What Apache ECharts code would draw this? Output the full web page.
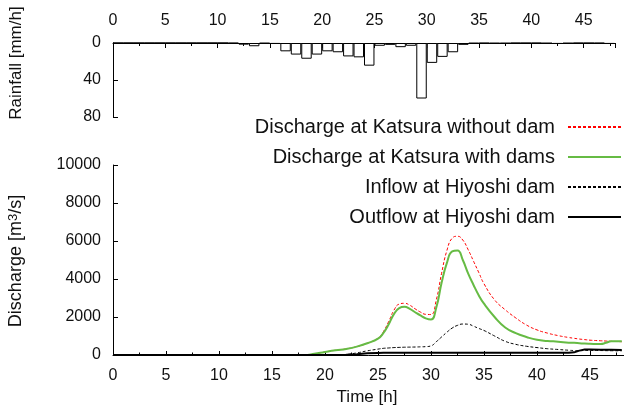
<!DOCTYPE html>
<html><head><meta charset="utf-8">
<script src="https://cdn.jsdelivr.net/npm/echarts@6/dist/echarts.min.js"></script>
<style>html,body{margin:0;padding:0;background:#fff}#c{width:624px;height:417px}</style>
</head><body><div id="c"></div><script>
// Rainfall: hourly bins starting at hour 0..47 [mm/h]
const rainHours = [0,1,2,3,4,5,6,7,8,9,10,11,12,13,14,15,16,17,18,19,20,21,22,23,24,25,26,27,28,29,30,31,32,33,34,35,36,37,38,39,40,41,42,43,44,45,46,47];
const rainfall = [0,0,0,0,0,0,0,0,0,0,0,0.3,1.8,3.5,0.5,1,9,12.5,17,12.5,9,10,14.5,15.5,24.5,3,2,4.5,3,60,21.5,15,10,2,0.5,0.3,0.5,0.5,0.2,0.2,0.2,0.5,1,0.5,0.2,0.2,0.3,1];

// Discharge time axis [h]
const time = [0,17,18,19,20,21,22,23,24,25,25.5,26,26.5,27,27.5,28,28.5,29,29.5,30,30.5,31,31.5,32,32.5,33,33.5,34,34.5,35,36,37,38,39,40,41,42,43,43.5,44,44.5,45,46,46.5,47,48];
const withoutDam = [0,0,0,60,160,250,320,440,620,880,1220,1750,2350,2680,2720,2620,2430,2260,2140,2130,2900,4300,5500,6150,6250,6050,5550,4950,4350,3750,2900,2380,1950,1580,1320,1150,1020,920,880,840,810,780,750,735,720,700];
const withDams = [0,0,0,60,160,250,320,440,620,860,1150,1600,2150,2470,2540,2430,2250,2080,1930,1870,2500,3800,4850,5450,5500,5000,4300,3700,3150,2700,2000,1450,1150,950,800,740,700,650,640,620,600,590,580,640,720,720];
const inflow = [0,0,0,0,0,10,30,110,220,310,350,370,390,400,410,415,420,430,440,480,700,950,1200,1420,1560,1630,1620,1520,1400,1290,1000,720,560,460,390,330,290,250,235,230,235,240,235,230,225,220];
const outflow = [0,0,0,0,0,0,10,40,90,110,120,120,120,120,120,120,120,120,120,120,120,120,120,120,120,120,120,120,120,120,120,120,120,120,120,120,120,120,140,230,290,290,280,275,270,260];

const names = ['Discharge at Katsura without dam','Discharge at Katsura with dams','Inflow at Hiyoshi dam','Outflow at Hiyoshi dam'];
const FONT = 'Liberation Sans, Arial, sans-serif';
const TXT = '#111';

const pairs = arr => time.map((t, i) => [t, arr[i]]);
const axisCommon = {
  axisLine: { onZero: false, lineStyle: { color: '#000', width: 1 } },
  axisTick: { inside: true, length: 5, lineStyle: { color: '#000' } },
  splitLine: { show: false },
  axisLabel: { fontSize: 16, color: TXT, fontFamily: FONT, formatter: v => String(v) }
};
const five = v => (v % 5 === 0 ? String(v) : '');

const chart = echarts.init(document.getElementById('c'), null, { renderer: 'canvas' });
const legendRow = (i, top) => ({
  data: [names[i]], right: 2, top: top, orient: 'vertical', align: 'right', padding: 0,
  itemWidth: 53, itemHeight: 12, selectedMode: false,
  itemStyle: { opacity: 0 },
  textStyle: { fontSize: 20, color: TXT, fontFamily: FONT, padding: [0, 8, 0, 0] }
});
chart.setOption({
  animation: false,
  backgroundColor: '#fff',
  grid: [
    { left: 113, top: 43, width: 502, height: 74, outerBoundsMode: 'none', containLabel: false },
    { left: 113, top: 165, width: 530, height: 190, outerBoundsMode: 'none', containLabel: false }
  ],
  xAxis: [
    Object.assign({}, axisCommon, { gridIndex: 0, type: 'value', position: 'top', min: 0, max: 48, interval: 5,
      minorTick: { show: true, splitNumber: 2, length: 3, lineStyle: { color: '#000' } },
      axisLabel: Object.assign({}, axisCommon.axisLabel, { margin: 14, formatter: five }) }),
    { gridIndex: 0, type: 'category', data: rainHours, show: false, boundaryGap: true },
    Object.assign({}, axisCommon, { gridIndex: 1, type: 'value', position: 'bottom', min: 0, max: 50, interval: 5,
      axisTick: { inside: true, length: 4, lineStyle: { color: '#000' } },
      minorTick: { show: true, splitNumber: 2, length: 2.5, lineStyle: { color: '#000' } },
      axisLabel: Object.assign({}, axisCommon.axisLabel, { margin: 13, formatter: five }) })
  ],
  yAxis: [
    Object.assign({}, axisCommon, { gridIndex: 0, type: 'value', inverse: true, min: 0, max: 80, interval: 40,
      axisLabel: Object.assign({}, axisCommon.axisLabel, { margin: 12 }) }),
    Object.assign({}, axisCommon, { gridIndex: 1, type: 'value', min: 0, max: 10000, interval: 2000,
      axisLabel: Object.assign({}, axisCommon.axisLabel, { margin: 12 }) })
  ],
  legend: [legendRow(0, 117), legendRow(1, 147), legendRow(2, 177), legendRow(3, 207)],
  graphic: [
    { type: 'text', x: 16, y: 63, rotation: Math.PI / 2, style: { text: 'Rainfall [mm/h]', fontSize: 17, fill: TXT, fontFamily: FONT, align: 'center', verticalAlign: 'middle' } },
    { type: 'text', x: 16, y: 261, rotation: Math.PI / 2, style: { text: 'Discharge [m{sup|3}/s]', fontSize: 18, fill: TXT, fontFamily: FONT, align: 'center', verticalAlign: 'middle',
      rich: { sup: { fontSize: 13, fontFamily: FONT, fill: TXT, verticalAlign: 'top', padding: [0, 0, 6, 0] } } } },
    { type: 'text', x: 367, y: 397, style: { text: 'Time [h]', fontSize: 17, fill: TXT, fontFamily: FONT, align: 'center', verticalAlign: 'middle' } }
  ],
  series: [
    { type: 'bar', xAxisIndex: 1, yAxisIndex: 0, data: rainfall, barCategoryGap: '0%', silent: true,
      itemStyle: { color: '#fff', borderColor: '#000', borderWidth: 1 } },
    { name: names[0], type: 'line', xAxisIndex: 2, yAxisIndex: 1, data: pairs(withoutDam), symbol: 'none', smooth: 0.5,
      lineStyle: { color: '#ff0000', width: 1, type: [3, 2] }, itemStyle: { color: '#ff0000' } },
    { name: names[1], type: 'line', xAxisIndex: 2, yAxisIndex: 1, data: pairs(withDams), symbol: 'none', smooth: 0.5,
      lineStyle: { color: '#66bb44', width: 2 }, itemStyle: { color: '#66bb44' } },
    { name: names[2], type: 'line', xAxisIndex: 2, yAxisIndex: 1, data: pairs(inflow), symbol: 'none', smooth: 0.5,
      lineStyle: { color: '#000', width: 1, type: [3, 2] }, itemStyle: { color: '#000' } },
    { name: names[3], type: 'line', xAxisIndex: 2, yAxisIndex: 1, data: pairs(outflow), symbol: 'none', smooth: false,
      lineStyle: { color: '#000', width: 2 }, itemStyle: { color: '#000' } }
  ]
});
</script></body></html>
